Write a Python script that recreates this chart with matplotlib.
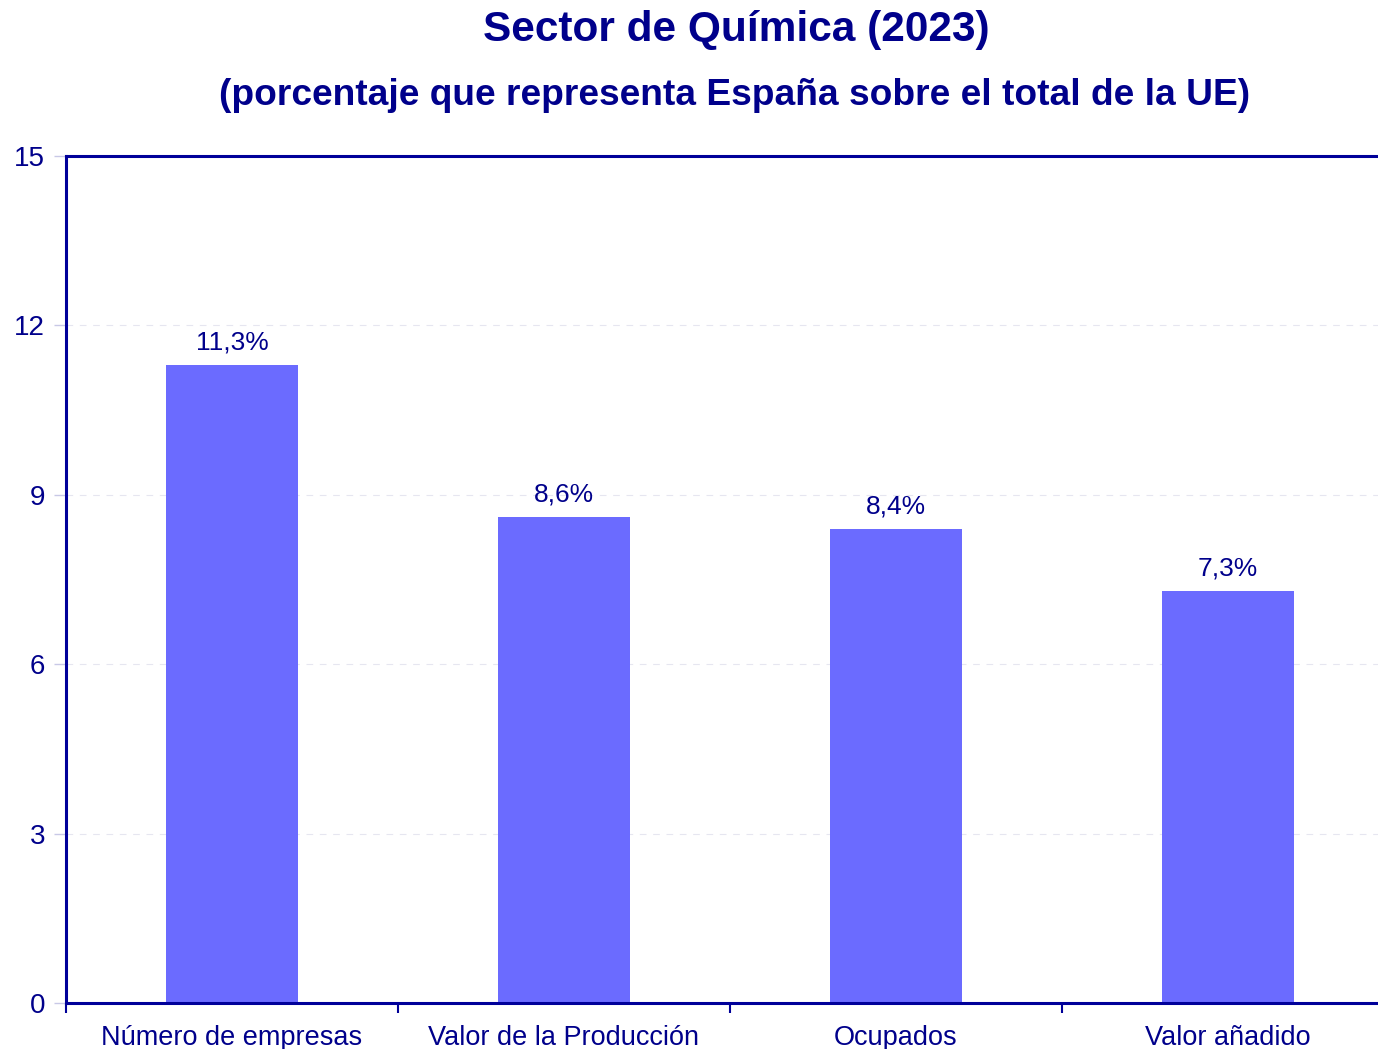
import matplotlib.pyplot as plt
from matplotlib.ticker import FixedLocator

plt.rcParams['font.family'] = ['Liberation Sans', 'DejaVu Sans']

categorias = ['Número de empresas', 'Valor de la Producción', 'Ocupados', 'Valor añadido']
porcentajes = [11.3, 8.6, 8.4, 7.3]
etiquetas = ['11,3%', '8,6%', '8,4%', '7,3%']
yticks = [0, 3, 6, 9, 12, 15]

azul = '#00008B'
eje = '#000099'
barra = '#6B6BFF'

fig = plt.figure(figsize=(13.78, 10.49), dpi=100)
# el eje sobrepasa el borde derecho de la figura
ax = fig.add_axes([66 / 1378, 46 / 1049, 1328 / 1378, 847 / 1049])

x = range(len(categorias))
ax.bar(x, porcentajes, width=0.4, color=barra, zorder=2)

for xi, v, t in zip(x, porcentajes, etiquetas):
    ax.annotate(t, (xi, v), xytext=(0, 7.5), textcoords='offset points',
                ha='center', va='bottom', fontsize=19, color=azul)

ax.set_xlim(-0.5, len(categorias) - 0.5)
ax.set_ylim(0, 15)
ax.set_yticks(yticks)
ax.set_yticklabels([str(v) for v in yticks])
ax.yaxis.grid(True, linestyle=(0, (6, 6)), color='#e6e6f0', linewidth=0.8, zorder=0)

# categorias centradas, separadores entre ellas
ax.set_xticks(list(x))
ax.set_xticklabels(categorias)
ax.xaxis.set_minor_locator(FixedLocator([i - 0.5 for i in range(len(categorias) + 1)]))
ax.tick_params(axis='x', which='major', length=0, pad=16, labelsize=19.5, labelcolor=azul)
ax.tick_params(axis='x', which='minor', length=7, width=1.5, color=eje, direction='out')
ax.tick_params(axis='y', length=9, width=1, color='#c8c8e6', pad=6,
               labelsize=20, labelcolor=azul)

for lado in ['left', 'bottom', 'top']:
    ax.spines[lado].set_color(eje)
    ax.spines[lado].set_linewidth(2.2)
ax.spines['right'].set_visible(False)

fig.text(0.534, 0.971, 'Sector de Química (2023)', ha='center', va='center',
         fontsize=30.5, fontweight='bold', color=azul)
fig.text(0.533, 0.909, '(porcentaje que representa España sobre el total de la UE)',
         ha='center', va='center', fontsize=26.7, fontweight='bold', color=azul)

fig.savefig('out.png', dpi=100)
